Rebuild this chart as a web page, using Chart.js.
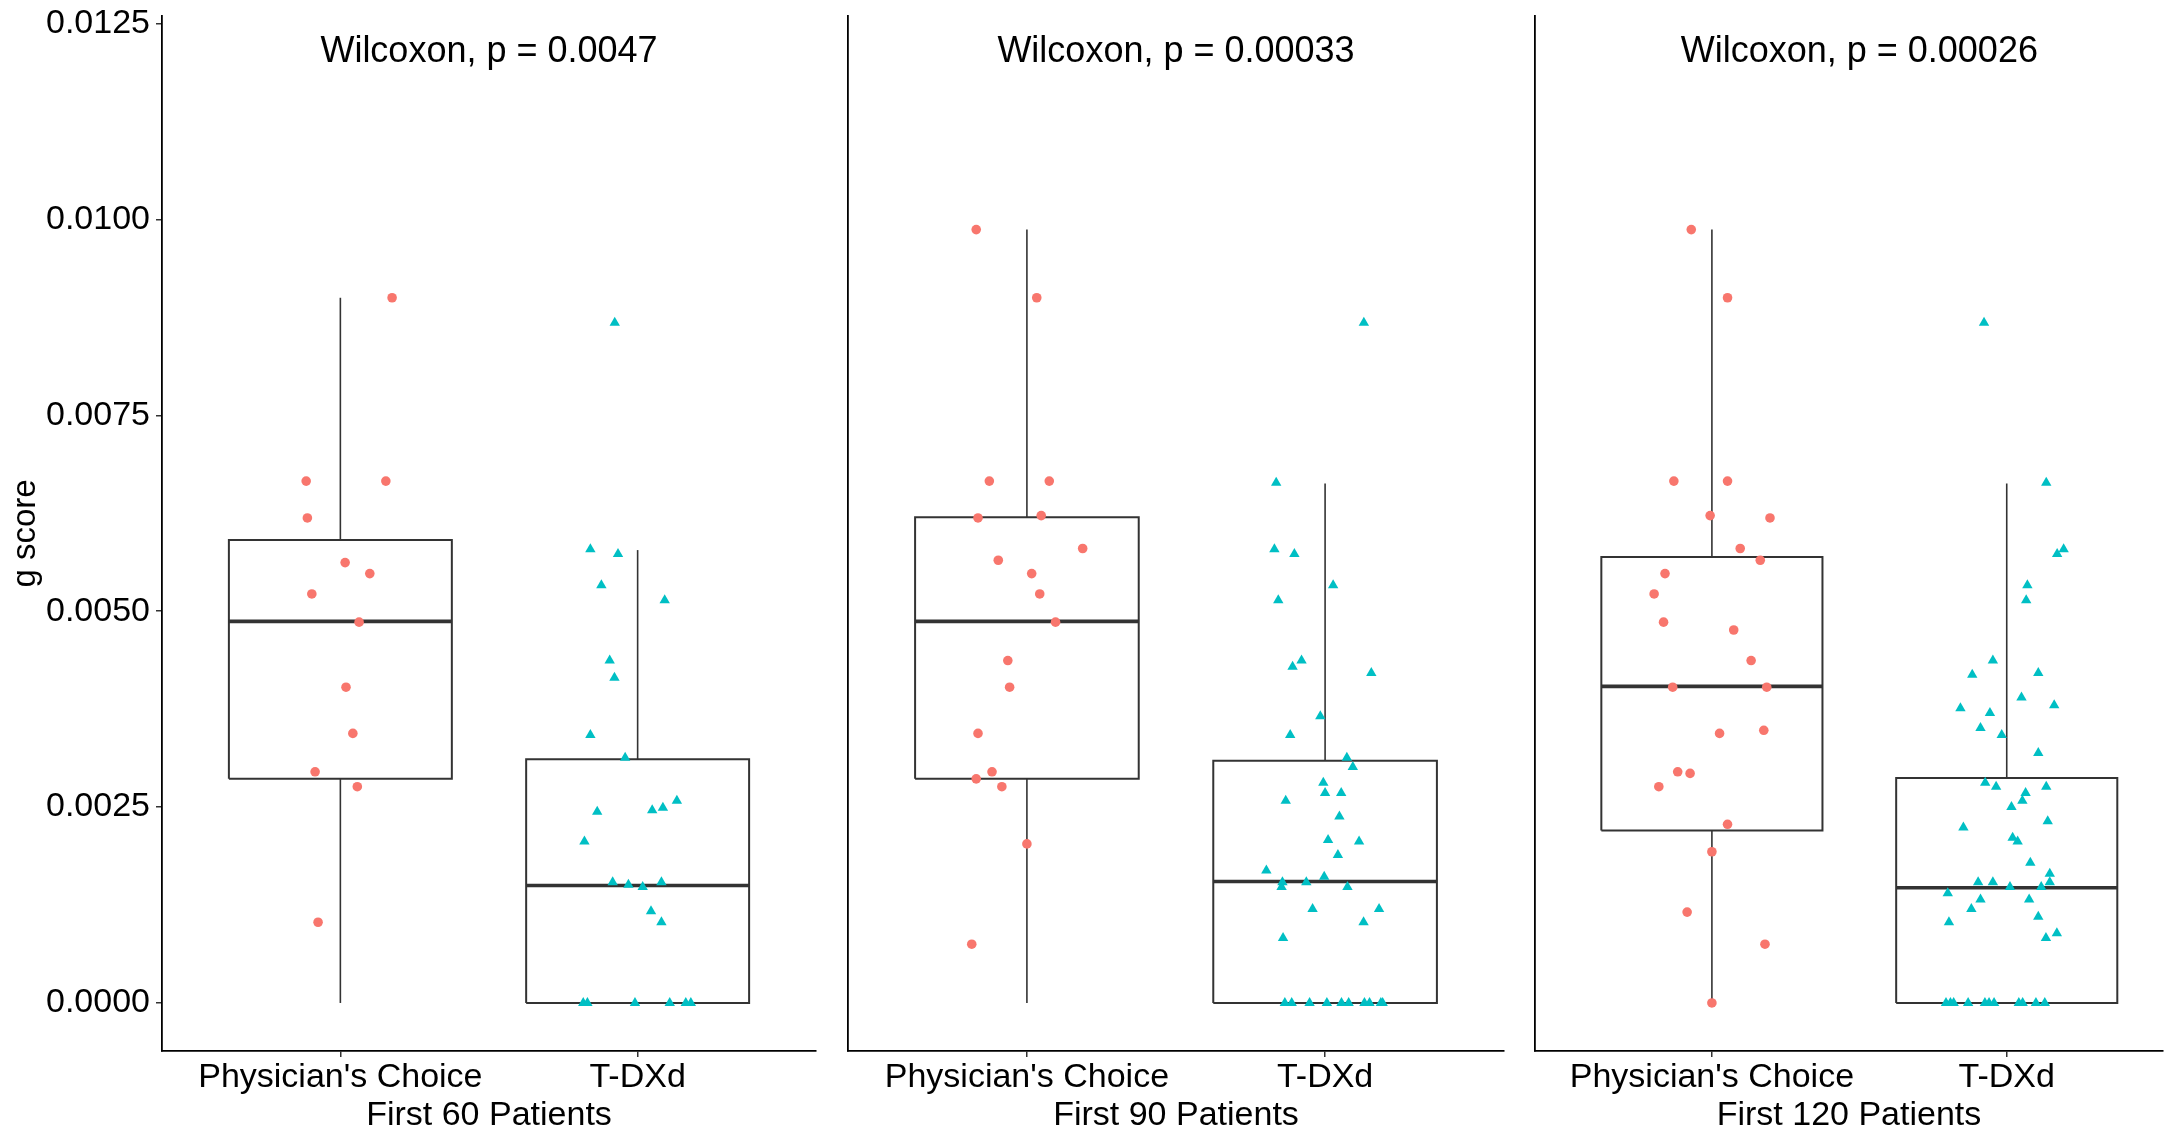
<!DOCTYPE html>
<html>
<head>
<meta charset="utf-8">
<script src="https://cdn.jsdelivr.net/npm/chart.js@4.4.0/dist/chart.umd.min.js"></script>
<style>
html, body { margin: 0; padding: 0; background: #fff; overflow: hidden; }
#wrap { position: relative; width: 2169px; height: 1129px; }
canvas { position: absolute; top: 0; }
</style>
</head>
<body>
<div id="wrap">
  <canvas id="p60" width="830" height="1129" style="left:0px"></canvas>
  <canvas id="p90" width="687" height="1129" style="left:830px"></canvas>
  <canvas id="p120" width="652" height="1129" style="left:1517px"></canvas>
</div>
<script>
// g score boxplots, three cohorts

const groups = ["Physician's Choice", 'T-DXd'];
const cohorts = ['First 60 Patients', 'First 90 Patients', 'First 120 Patients'];
const pValues = ['0.0047', '0.00033', '0.00026'];
const yTickValues = [0, 0.0025, 0.005, 0.0075, 0.01, 0.0125];

// box stats: [min, q1, median, q3, max]
const pc60Box = [0, 0.00286, 0.00487, 0.00591, 0.0090];
const td60Box = [0, 0, 0.0015, 0.00311, 0.00578];
const pc90Box = [0, 0.00286, 0.00487, 0.0062, 0.00987];
const td90Box = [0, 0, 0.00155, 0.00309, 0.00663];
const pc120Box = [0, 0.0022, 0.00404, 0.00569, 0.00987];
const td120Box = [0, 0, 0.00147, 0.00287, 0.00663];

// jittered points: value + horizontal jitter (category units)
const pc60Y = [0.0090, 0.00666, 0.00666, 0.00619, 0.00562, 0.00548, 0.00522, 0.00486, 0.00403, 0.00344, 0.00295, 0.00276, 0.00103];
const pc60J = [0.174, -0.115, 0.153, -0.111, 0.016, 0.099, -0.096, 0.063, 0.019, 0.042, -0.085, 0.057, -0.075];
const td60Y = [0.00868, 0.00579, 0.00573, 0.00533, 0.00514, 0.00437, 0.00415, 0.00342, 0.00313, 0.00258, 0.00249, 0.00246, 0.00244, 0.00206, 0.00154, 0.00151, 0.00148, 0.00154, 0.00117, 0.00103, 0, 0, 0, 0, 0, 0];
const td60J = [-0.077, -0.159, -0.066, -0.122, 0.091, -0.094, -0.078, -0.159, -0.042, 0.132, 0.085, 0.049, -0.136, -0.179, -0.084, -0.031, 0.017, 0.080, 0.045, 0.080, -0.183, -0.169, -0.009, 0.108, 0.162, 0.179];

const pc90Y = [0.00987, 0.0090, 0.00666, 0.00666, 0.00619, 0.00622, 0.0058, 0.00565, 0.00548, 0.00522, 0.00486, 0.00437, 0.00403, 0.00344, 0.00295, 0.00286, 0.00276, 0.00203, 0.00075];
const pc90J = [-0.170, 0.033, -0.126, 0.075, -0.164, 0.048, 0.187, -0.096, 0.016, 0.043, 0.096, -0.064, -0.058, -0.164, -0.117, -0.170, -0.084, 0.0, -0.185];
const td90Y = [0.00868, 0.00664, 0.00579, 0.00573, 0.00533, 0.00514, 0.00437, 0.00429, 0.00421, 0.00366, 0.00342, 0.00313, 0.00301, 0.00281, 0.00268, 0.00268, 0.00258, 0.00238, 0.00208, 0.00206, 0.00189, 0.00169, 0.00161, 0.00154, 0.00154, 0.00148, 0.00148, 0.0012, 0.0012, 0.00103, 0.00083, 0, 0, 0, 0, 0, 0, 0, 0, 0, 0];
const td90J = [0.130, -0.164, -0.170, -0.103, 0.027, -0.157, -0.079, -0.109, 0.155, -0.016, -0.117, 0.073, 0.093, -0.006, 0.0, 0.054, -0.132, 0.048, 0.010, 0.114, 0.043, -0.197, -0.003, -0.143, -0.063, -0.146, 0.075, -0.042, 0.181, 0.129, -0.141, -0.135, -0.112, -0.052, 0.006, 0.055, 0.079, 0.132, 0.149, 0.187, 0.193];

const pc120Y = [0.00987, 0.0090, 0.00666, 0.00666, 0.00622, 0.00619, 0.0058, 0.00565, 0.00548, 0.00522, 0.00486, 0.00476, 0.00437, 0.00403, 0.00403, 0.00344, 0.00348, 0.00295, 0.00293, 0.00276, 0.00228, 0.00193, 0.00116, 0.00075, 0];
const pc120J = [-0.070, 0.053, -0.129, 0.053, -0.006, 0.197, 0.096, 0.164, -0.159, -0.196, -0.164, 0.074, 0.133, -0.133, 0.186, 0.026, 0.176, -0.116, -0.074, -0.180, 0.053, 0.0, -0.084, 0.180, 0.0];
const td120Y = [0.00868, 0.00664, 0.00579, 0.00573, 0.00533, 0.00514, 0.00437, 0.00421, 0.00419, 0.0039, 0.0038, 0.00376, 0.0037, 0.00351, 0.00342, 0.00319, 0.00281, 0.00276, 0.00276, 0.00268, 0.00258, 0.0025, 0.00232, 0.00224, 0.00211, 0.00206, 0.00179, 0.00165, 0.00154, 0.00154, 0.00154, 0.00148, 0.00148, 0.0014, 0.00132, 0.00132, 0.0012, 0.0011, 0.00103, 0.00089, 0.00083, 0, 0, 0, 0, 0, 0, 0, 0, 0, 0, 0];
const td120J = [-0.077, 0.134, 0.193, 0.171, 0.070, 0.066, -0.047, 0.107, -0.117, 0.05, 0.161, -0.157, -0.057, -0.089, -0.017, 0.107, -0.073, -0.036, 0.134, 0.064, 0.053, 0.016, 0.139, -0.147, 0.02, 0.037, 0.08, 0.146, -0.097, -0.047, 0.146, 0.011, 0.117, -0.2, -0.089, 0.076, -0.12, 0.107, -0.196, 0.17, 0.133, -0.206, -0.191, -0.18, -0.131, -0.074, -0.06, -0.043, 0.041, 0.054, 0.099, 0.129];

const FONT = '"Liberation Sans", Arial, sans-serif';
const RED = '#F8766D';
const CYAN = '#00BFC4';
const LINE = '#333333';
const BOX_HALF = 0.375;
const Y_MIN = -0.000613;
const Y_MAX = 0.012596;

// p 值标签（画在面板内顶部）
const pLabelPlugin = {
    id: 'pLabel',
    afterDraw(chart, args, opts) {
        const { ctx, chartArea } = chart;
        const x = chart.scales.x.getPixelForValue(1.5);
        ctx.save();
        ctx.font = '36px ' + FONT;
        ctx.fillStyle = '#000';
        ctx.textAlign = 'center';
        ctx.textBaseline = 'middle';
        ctx.fillText(opts.text, x, chartArea.top + 36);
        ctx.restore();
    }
};

function lineSet(points, width) {
    return {
        type: 'line',
        data: points,
        borderColor: LINE,
        borderWidth: width,
        pointRadius: 0,
        fill: false,
        tension: 0,
        borderJoinStyle: 'miter',
        borderCapStyle: 'butt',
        order: 2
    };
}

function boxSets(center, s) {
    const [lo, q1, med, q3, hi] = s;
    const l = center - BOX_HALF, r = center + BOX_HALF;
    return [
        lineSet([{ x: center, y: q3 }, { x: center, y: hi }], 1.6),
        lineSet([{ x: center, y: lo }, { x: center, y: q1 }], 1.6),
        lineSet([{ x: l, y: q1 }, { x: r, y: q1 }, { x: r, y: q3 }, { x: l, y: q3 }, { x: l, y: q1 }], 2),
        lineSet([{ x: l, y: med }, { x: r, y: med }], 3.6)
    ];
}

function pointSet(center, ys, js, color, style, radius) {
    return {
        type: 'scatter',
        data: ys.map((v, i) => ({ x: center + js[i], y: v })),
        backgroundColor: color,
        borderColor: color,
        borderWidth: 0,
        pointStyle: style,
        pointRadius: radius,
        order: 0
    };
}

function makePanel(id, cfg) {
    const axisFont = { family: FONT, size: 34 };
    new Chart(document.getElementById(id), {
        type: 'scatter',
        data: {
            datasets: [
                pointSet(1, cfg.pcY, cfg.pcJ, RED, 'circle', 4.8),
                pointSet(2, cfg.tdY, cfg.tdJ, CYAN, 'triangle', 6),
                ...boxSets(1, cfg.pcBox),
                ...boxSets(2, cfg.tdBox)
            ]
        },
        options: {
            responsive: false,
            animation: false,
            events: [],
            devicePixelRatio: 1,
            layout: { padding: { top: 16, right: cfg.padRight, bottom: 0, left: 0 } },
            plugins: {
                legend: { display: false },
                tooltip: { enabled: false },
                pLabel: { text: 'Wilcoxon, p = ' + cfg.p }
            },
            scales: {
                x: {
                    type: 'linear',
                    min: 0.4,
                    max: cfg.xMax,
                    afterBuildTicks: s => { s.ticks = [{ value: 1 }, { value: 2 }]; },
                    afterFit: s => { s.height = 78; s.paddingLeft = 0; s.paddingRight = 0; },
                    ticks: {
                        callback: v => groups[Math.round(v) - 1],
                        font: axisFont,
                        color: '#000',
                        padding: 0,
                        maxRotation: 0,
                        autoSkip: false
                    },
                    grid: { drawOnChartArea: false, drawTicks: true, tickLength: 6, color: LINE, lineWidth: 1.5 },
                    border: { display: true, color: '#000', width: 1.8 },
                    title: {
                        display: true,
                        text: cfg.cohort,
                        font: { family: FONT, size: 34, lineHeight: 0.8 },
                        color: '#000',
                        padding: { top: 0, bottom: 0 }
                    }
                },
                y: {
                    type: 'linear',
                    min: Y_MIN,
                    max: Y_MAX,
                    afterBuildTicks: s => { s.ticks = yTickValues.map(v => ({ value: v })); },
                    afterFit: s => { s.width = cfg.axisW; s.paddingTop = 0; s.paddingBottom = 0; },
                    ticks: {
                        display: cfg.showY,
                        callback: v => v.toFixed(4),
                        font: axisFont,
                        color: '#000',
                        padding: 6
                    },
                    grid: { drawOnChartArea: false, drawTicks: cfg.showY, tickLength: 6, color: LINE, lineWidth: 1.5 },
                    border: { display: true, color: '#000', width: 1.8 },
                    title: {
                        display: cfg.showY,
                        text: 'g score',
                        font: { family: FONT, size: 33, lineHeight: 1 },
                        color: '#000',
                        padding: { top: 9, bottom: 0 }
                    }
                }
            }
        },
        plugins: [pLabelPlugin]
    });
}

makePanel('p60', {
    cohort: cohorts[0], p: pValues[0], showY: true, axisW: 162, padRight: 14, xMax: 2.6,
    pcY: pc60Y, pcJ: pc60J, tdY: td60Y, tdJ: td60J, pcBox: pc60Box, tdBox: td60Box
});
makePanel('p90', {
    cohort: cohorts[1], p: pValues[1], showY: false, axisW: 18, padRight: 13, xMax: 2.6,
    pcY: pc90Y, pcJ: pc90J, tdY: td90Y, tdJ: td90J, pcBox: pc90Box, tdBox: td90Box
});
makePanel('p120', {
    cohort: cohorts[2], p: pValues[2], showY: false, axisW: 18, padRight: 0, xMax: 2.53,
    pcY: pc120Y, pcJ: pc120J, tdY: td120Y, tdJ: td120J, pcBox: pc120Box, tdBox: td120Box
});
</script>
</body>
</html>
